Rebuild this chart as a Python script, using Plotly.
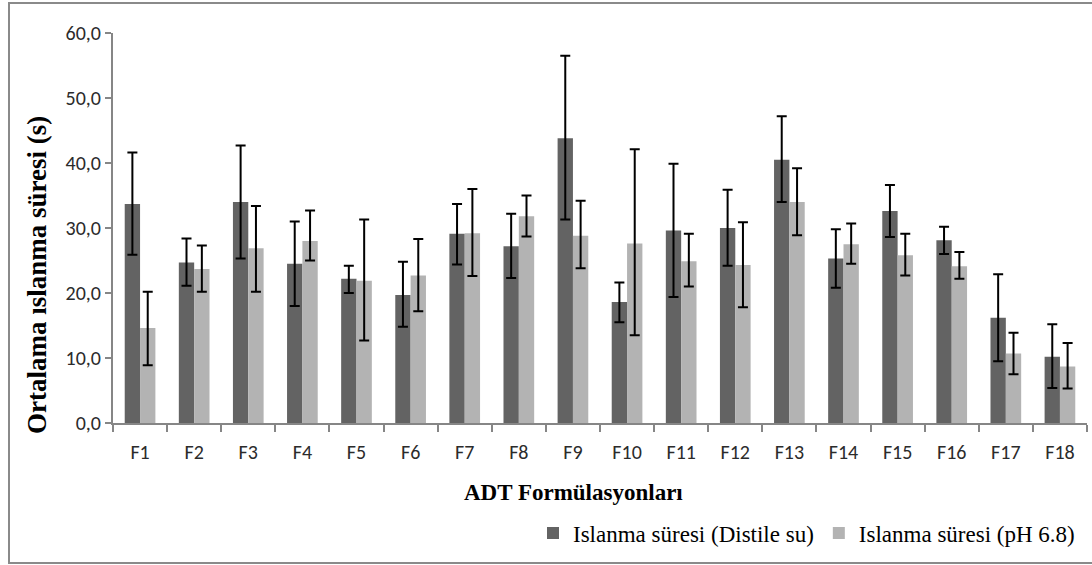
import plotly.graph_objects as go

# Formulations on the x axis
formulations = [f"F{i}" for i in range(1, 19)]

# Mean wetting time (s) in distilled water and its error (+/-)
mean_distile = [33.7, 24.7, 34.0, 24.5, 22.2, 19.7, 29.1, 27.2, 43.8,
                18.6, 29.6, 30.0, 40.5, 25.3, 32.6, 28.1, 16.2, 10.2]
err_distile_up = [7.9, 3.7, 8.7, 6.5, 2.0, 5.1, 4.6, 5.0, 12.7,
                  3.0, 10.3, 5.9, 6.7, 4.5, 4.0, 2.1, 6.7, 5.0]
err_distile_down = [7.8, 3.6, 8.7, 6.5, 2.2, 4.9, 4.7, 4.9, 12.5,
                    3.1, 10.2, 5.8, 6.5, 4.5, 4.0, 2.1, 6.7, 4.8]

# Mean wetting time (s) in pH 6.8 buffer and its error (+/-)
mean_ph = [14.6, 23.7, 26.9, 28.0, 21.9, 22.7, 29.2, 31.8, 28.8,
           27.6, 24.9, 24.3, 34.0, 27.5, 25.8, 24.1, 10.7, 8.7]
err_ph_up = [5.6, 3.6, 6.5, 4.7, 9.4, 5.6, 6.8, 3.2, 5.4,
             14.5, 4.2, 6.6, 5.2, 3.2, 3.3, 2.2, 3.2, 3.6]
err_ph_down = [5.7, 3.5, 6.7, 3.0, 9.2, 5.5, 6.6, 3.1, 5.0,
               14.1, 3.9, 6.5, 5.1, 3.0, 3.1, 1.9, 3.2, 3.4]

y_ticks = [0, 10, 20, 30, 40, 50, 60]
y_tick_labels = ["0,0", "10,0", "20,0", "30,0", "40,0", "50,0", "60,0"]

series_names = ["Islanma süresi (Distile su)", "Islanma süresi (pH 6.8)"]
x_title = "ADT Formülasyonları"
y_title = "Ortalama ıslanma süresi (s)"

W, H = 1092, 565
L, R, T, B = 113, 5, 33, 142
PW, PH = W - L - R, H - T - B


def px_x(px):
    return (px - L) / PW


def px_y(py):
    return (H - B - py) / PH


AXIS_GREY = "#868686"
SERIF = "Liberation Serif, Times New Roman, serif"
SANS = "Carlito, Lato, sans-serif"

fig = go.Figure()
fig.add_trace(go.Bar(
    x=formulations, y=mean_distile, name=series_names[0],
    marker=dict(color="#636363", line=dict(width=0)),
    error_y=dict(type="data", symmetric=False, array=err_distile_up,
                 arrayminus=err_distile_down, color="black",
                 thickness=2, width=5),
))
fig.add_trace(go.Bar(
    x=formulations, y=mean_ph, name=series_names[1],
    marker=dict(color="#b3b3b3", line=dict(width=0)),
    error_y=dict(type="data", symmetric=False, array=err_ph_up,
                 arrayminus=err_ph_down, color="black",
                 thickness=2, width=5),
))

fig.update_layout(
    width=W, height=H,
    margin=dict(l=L, r=R, t=T, b=B),
    paper_bgcolor="white", plot_bgcolor="white",
    barmode="group", bargap=0.433, bargroupgap=0,
    showlegend=True,
    legend=dict(orientation="h", x=px_x(1080), xanchor="right",
                y=px_y(533), yanchor="middle",
                font=dict(family=SERIF, size=23, color="black"),
                bgcolor="rgba(0,0,0,0)", itemclick=False),
    xaxis=dict(type="category", showgrid=False, zeroline=False,
               showline=True, linecolor=AXIS_GREY, linewidth=2,
               ticks="outside", tickson="boundaries", ticklen=7,
               tickwidth=2, tickcolor=AXIS_GREY, ticklabelstandoff=10,
               tickfont=dict(family=SANS, size=20, color="#2b2b2b")),
    yaxis=dict(range=[0, 60], showgrid=False, zeroline=False,
               showline=True, linecolor=AXIS_GREY, linewidth=2,
               ticks="outside", ticklen=6, tickwidth=2, tickcolor=AXIS_GREY,
               tickvals=y_ticks, ticktext=y_tick_labels,
               tickfont=dict(family=SANS, size=20, color="#2b2b2b")),
    annotations=[
        dict(text=f"<b>{y_title}</b>", xref="paper", yref="paper",
             x=px_x(37), y=px_y(275), xanchor="center", yanchor="middle",
             textangle=-90, showarrow=False,
             font=dict(family=SERIF, size=27, color="black")),
        dict(text=f"<b>{x_title}</b>", xref="paper", yref="paper",
             x=px_x(573.5), y=px_y(492.5), xanchor="center", yanchor="middle",
             showarrow=False,
             font=dict(family=SERIF, size=23, color="black")),
    ],
    shapes=[
        dict(type="rect", xref="paper", yref="paper",
             x0=px_x(9), x1=px_x(1110), y0=px_y(563), y1=px_y(3),
             line=dict(color="#8a8a8a", width=2), layer="below"),
    ],
)

fig.write_html("out.html")
